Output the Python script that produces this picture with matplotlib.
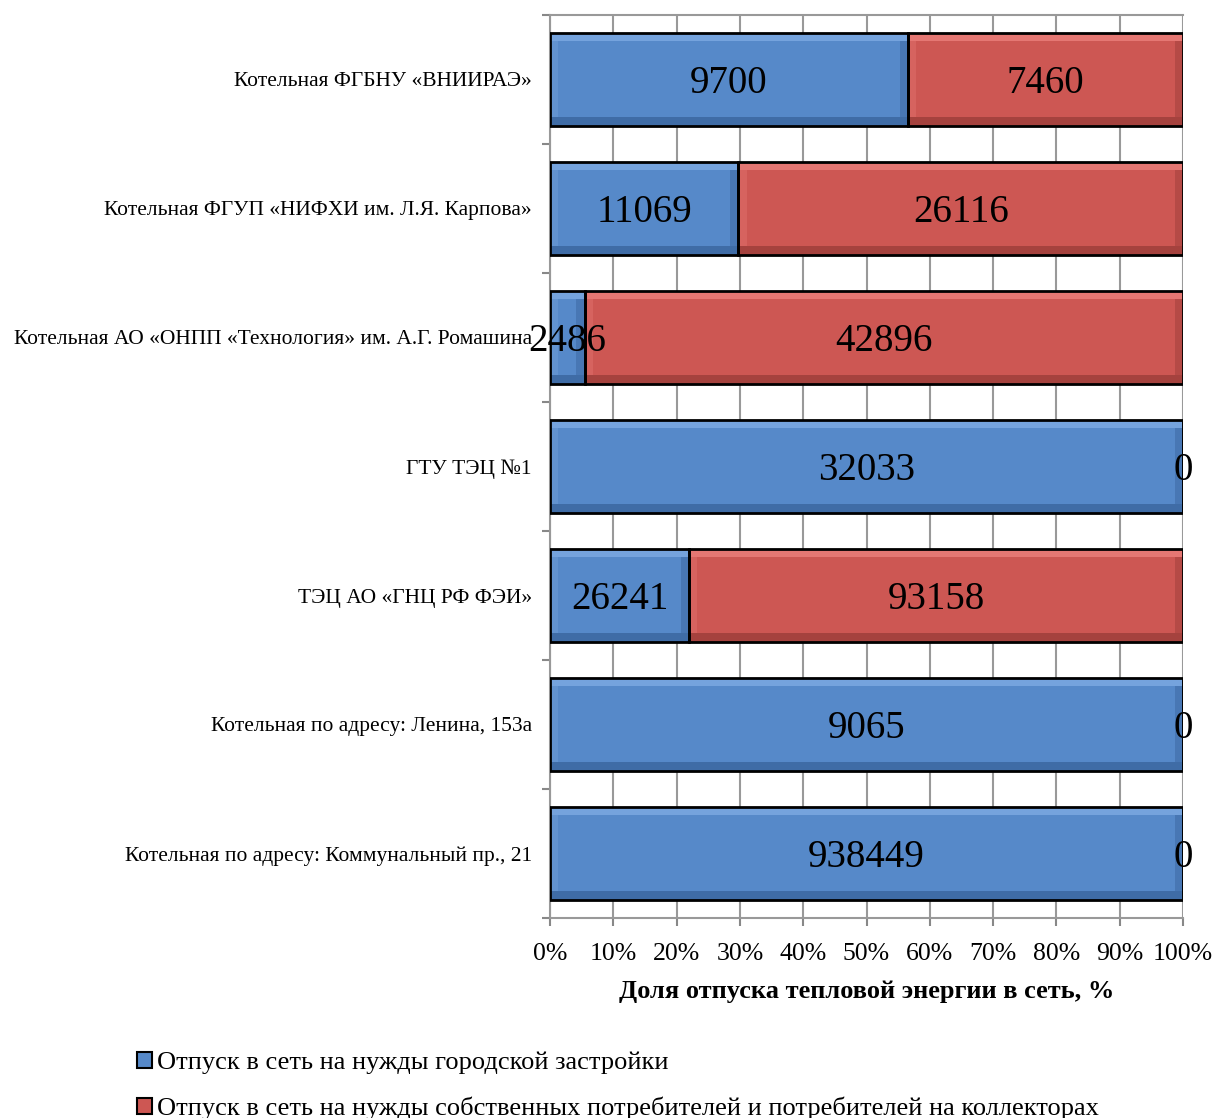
import matplotlib
matplotlib.use("Agg")
import matplotlib.pyplot as plt
import numpy as np
from matplotlib.patches import Rectangle

plt.rcParams['font.family'] = ['Liberation Serif', 'DejaVu Serif']

categories = [
    "Котельная ФГБНУ «ВНИИРАЭ»",
    "Котельная ФГУП «НИФХИ им. Л.Я. Карпова»",
    "Котельная АО «ОНПП «Технология» им. А.Г. Ромашина",
    "ГТУ ТЭЦ №1",
    "ТЭЦ АО «ГНЦ РФ ФЭИ»",
    "Котельная по адресу: Ленина, 153а",
    "Котельная по адресу: Коммунальный пр., 21",
]
city = [9700, 11069, 2486, 32033, 26241, 9065, 938449]
own = [7460, 26116, 42896, 0, 93158, 0, 0]
series_names = [
    "Отпуск в сеть на нужды городской застройки",
    "Отпуск в сеть на нужды собственных потребителей и потребителей на коллекторах",
]
xticklabels = ["0%", "10%", "20%", "30%", "40%", "50%", "60%", "70%", "80%", "90%", "100%"]
xlabel = "Доля отпуска тепловой энергии в сеть, %"

blue = "#5689C9"
red = "#CD5753"

fig = plt.figure(figsize=(12.13, 11.18), dpi=100)
ax = fig.add_axes([550/1213, 1-918/1118, 633/1213, 903/1118])

city = np.array(city, float)
own = np.array(own, float)
tot = city + own
pc = city / tot * 100
po = own / tot * 100
n = len(categories)
y = np.arange(n)[::-1]
h = 0.72

ax.barh(y, pc, height=h, color=blue, linewidth=0, zorder=3)
ax.barh(y, po, left=pc, height=h, color=red, linewidth=0, zorder=3)
# bevel highlight/shadow strips
for vals, lefts, col_l, col_d in [(pc, np.zeros(n), "#75A3DD", "#3F6CA6"),
                                  (po, pc, "#E57773", "#A5423E")]:
    sw = np.minimum(1.3, vals / 2)
    ax.barh(y + h/2 - 0.03, vals, left=lefts, height=0.06, color=col_l, linewidth=0, zorder=3.4)
    ax.barh(y - h/2 + 0.035, vals, left=lefts, height=0.07, color=col_d, linewidth=0, zorder=3.4)
    ax.barh(y, sw, left=lefts + vals - sw, height=h, color=col_d, alpha=0.6, linewidth=0, zorder=3.3)
    ax.barh(y, sw, left=lefts, height=h, color=col_l, alpha=0.4, linewidth=0, zorder=3.3)
# outlines
ax.barh(y, pc, height=h, fill=False, edgecolor='black', linewidth=2, zorder=4)
ax.barh(y, po, left=pc, height=h, fill=False, edgecolor='black', linewidth=2, zorder=4)

for yi, a, b, va, vb in zip(y, pc, po, city, own):
    ax.text(a/2, yi - 0.03, f"{int(va)}", ha='center', va='center', fontsize=28, zorder=5)
    ax.text(a + b/2, yi - 0.03, f"{int(vb)}", ha='center', va='center', fontsize=28, zorder=5)

ax.set_xlim(0, 100)
ax.set_ylim(-0.5, n - 0.5)
ax.set_xticks(np.arange(0, 101, 10))
ax.set_xticklabels(xticklabels, fontsize=18.5)
ax.set_yticks(y)
ax.set_yticklabels(categories, fontsize=15.5)
ax.set_yticks(np.arange(n + 1) - 0.5, minor=True)
ax.tick_params(axis='y', which='major', length=0, pad=13)
ax.tick_params(axis='y', which='minor', length=6, color='#888888', width=1.5)
ax.tick_params(axis='x', length=6, color='#888888', width=1.5, pad=12)
ax.grid(axis='x', color='#999999', linewidth=1.5, zorder=0)
for s in ['left', 'bottom', 'top']:
    ax.spines[s].set_color('#999999')
    ax.spines[s].set_linewidth(1.5)
ax.spines['right'].set_visible(False)
ax.set_xlabel(xlabel, fontsize=19, fontweight='bold', labelpad=11)

handles = [Rectangle((0, 0), 1, 1, facecolor=blue, edgecolor='black', linewidth=1.5),
           Rectangle((0, 0), 1, 1, facecolor=red, edgecolor='black', linewidth=1.5)]
fig.legend(handles, series_names, loc='upper left', bbox_to_anchor=(137/1213, 1-1052/1118),
           frameon=False, fontsize=19, handlelength=0.55, handleheight=0.55, handletextpad=0.2,
           labelspacing=0.85, borderaxespad=0, borderpad=0)

fig.savefig("out.png", dpi=100)
